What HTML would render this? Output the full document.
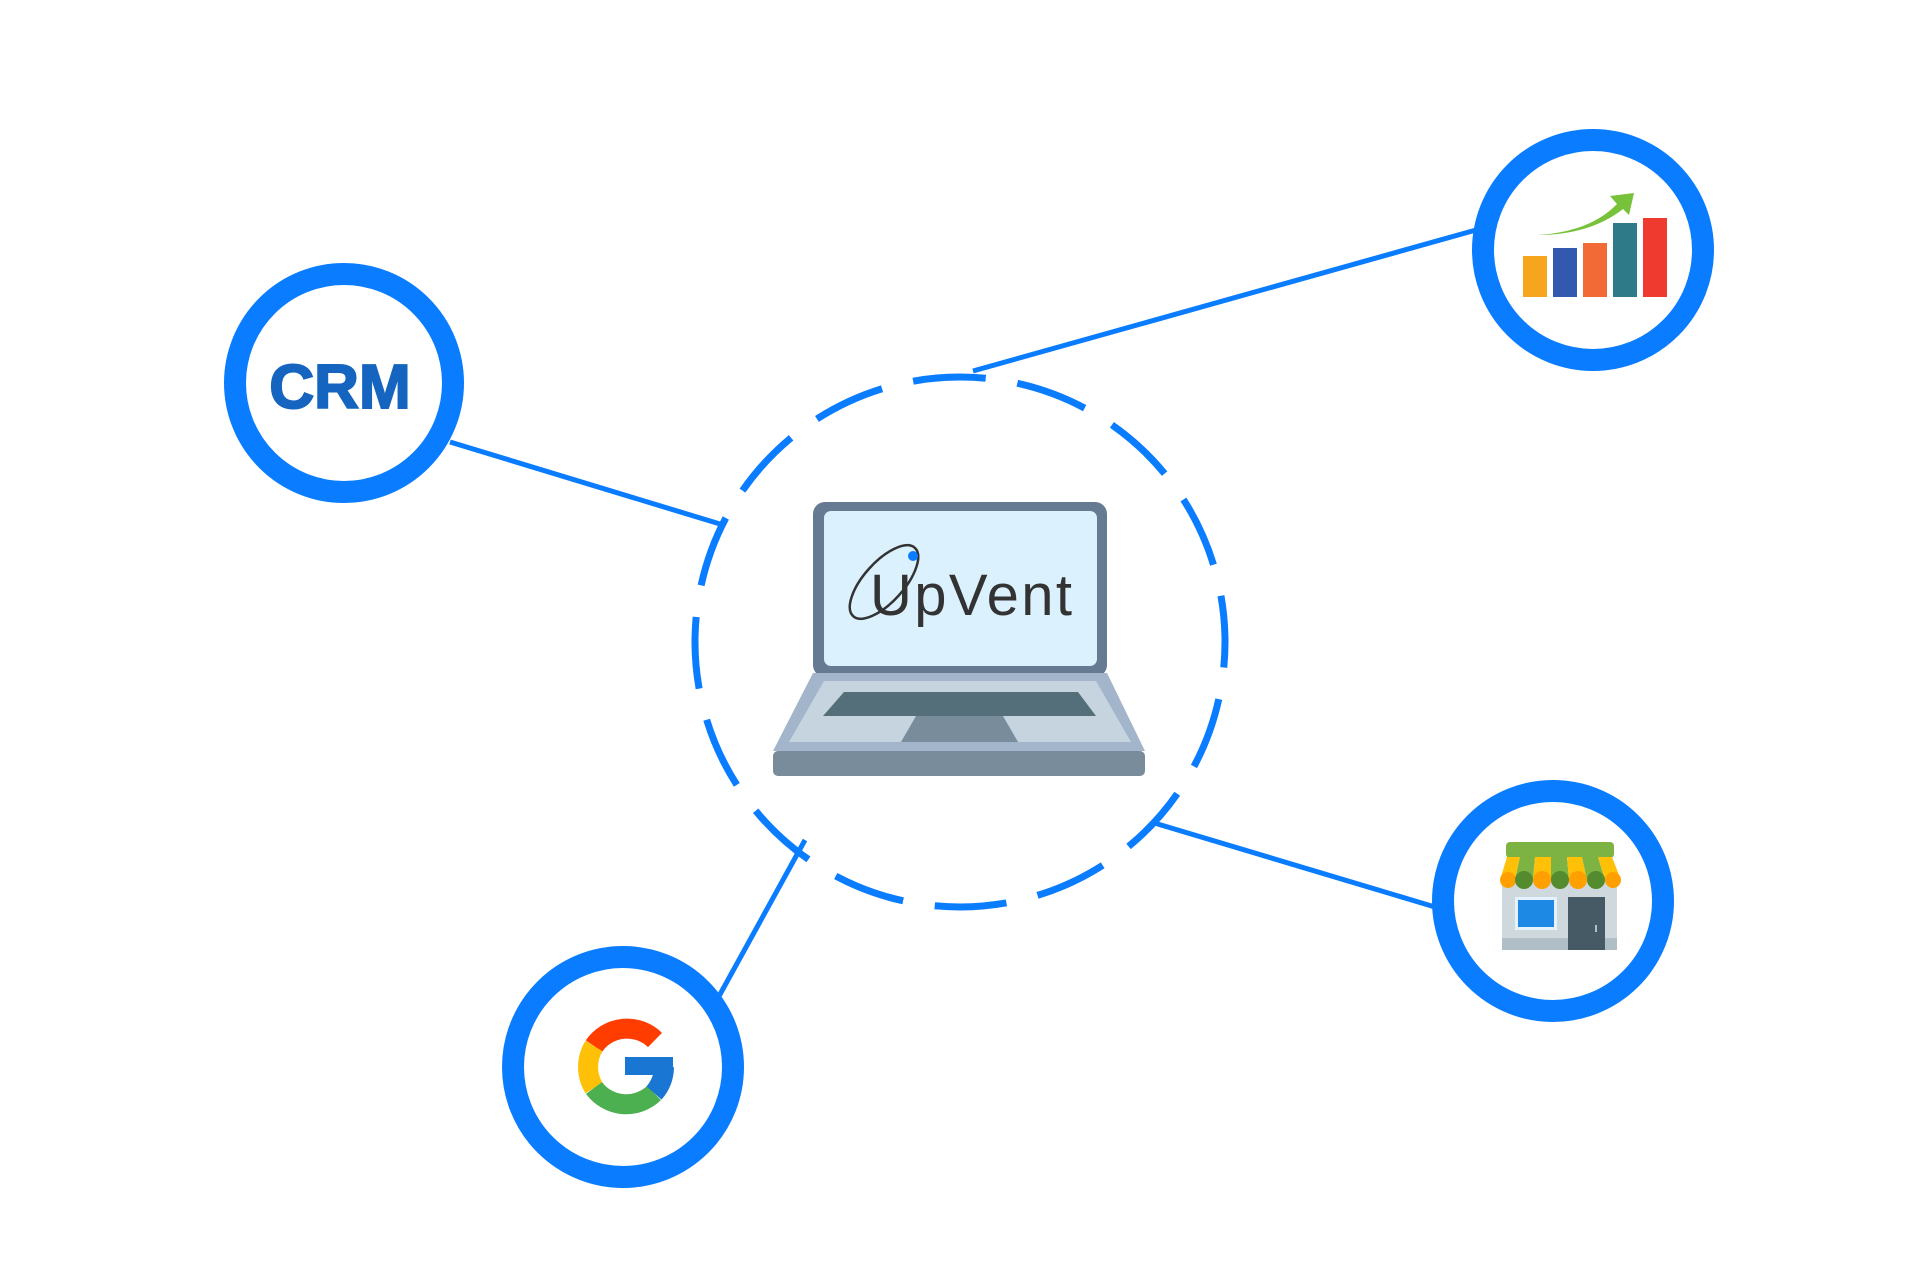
<!DOCTYPE html>
<html><head><meta charset="utf-8"><style>html,body{margin:0;padding:0;background:#fff}svg{display:block}</style></head>
<body>
<svg width="1920" height="1280" viewBox="0 0 1920 1280" xmlns="http://www.w3.org/2000/svg">
<rect width="1920" height="1280" fill="#fff"/>
<g stroke="#0a7cff" stroke-width="5" fill="none">
<line x1="450" y1="442" x2="720" y2="524"/>
<line x1="973" y1="371" x2="1476" y2="230"/>
<line x1="1151" y1="822" x2="1435" y2="907"/>
<line x1="805" y1="840" x2="718" y2="998"/>
</g>
<circle cx="960" cy="642" r="265" fill="none" stroke="#0a7cff" stroke-width="7" stroke-dasharray="72 32" transform="rotate(-100 960 642)"/>
<g fill="#fff" stroke="#0a7cff" stroke-width="22">
<circle cx="344" cy="383" r="109"/>
<circle cx="1593" cy="250" r="110"/>
<circle cx="1553" cy="901" r="110"/>
<circle cx="623" cy="1067" r="110"/>
</g>
<text x="340" y="408" text-anchor="middle" font-family="Liberation Sans, sans-serif" font-weight="bold" font-size="62" fill="#1565c0" stroke="#1565c0" stroke-width="2">CRM</text>
<!-- chart -->
<rect x="1523" y="256" width="24" height="41" fill="#f7a51f"/>
<rect x="1553" y="248" width="24" height="49" fill="#3259ae"/>
<rect x="1583" y="243" width="24" height="54" fill="#f26a35"/>
<rect x="1613" y="223" width="24" height="74" fill="#2f7a88"/>
<rect x="1643" y="218" width="24" height="79" fill="#ef3b2f"/>
<path d="M1537 235 Q1590 232 1617 204 L1610 196 L1634 193 L1629 215 L1623 209 Q1590 235 1537 235 Z" fill="#77c23a"/>
<!-- store -->
<rect x="1502" y="876" width="115" height="74" fill="#cfd8dc"/>
<rect x="1502" y="938" width="115" height="12" fill="#b0bec5"/>
<rect x="1515" y="897" width="42" height="33" fill="#e3f2fd"/>
<rect x="1518" y="900" width="36" height="27" fill="#1e88e5"/>
<rect x="1568" y="897" width="37" height="53" fill="#455a64"/>
<rect x="1595" y="925" width="2" height="7" fill="#b0bec5"/>
<rect x="1506" y="842" width="108" height="16" rx="4" fill="#7cb342"/>
<g>
<path d="M1500 880 L1507 857 L1520 857 L1515 880 Z" fill="#ffc107"/>
<path d="M1515 880 L1520 857 L1535 857 L1533 880 Z" fill="#7cb342"/>
<path d="M1533 880 L1535 857 L1551 857 L1551 880 Z" fill="#ffc107"/>
<path d="M1551 880 L1551 857 L1567 857 L1569 880 Z" fill="#7cb342"/>
<path d="M1569 880 L1567 857 L1582 857 L1587 880 Z" fill="#ffc107"/>
<path d="M1587 880 L1582 857 L1598 857 L1605 880 Z" fill="#7cb342"/>
<path d="M1605 880 L1598 857 L1612 857 L1621 880 Z" fill="#ffc107"/>
<circle cx="1508" cy="880" r="8" fill="#ffa000"/>
<circle cx="1524" cy="880" r="9" fill="#558b2f"/>
<circle cx="1542" cy="880" r="9" fill="#ffa000"/>
<circle cx="1560" cy="880" r="9" fill="#558b2f"/>
<circle cx="1578" cy="880" r="9" fill="#ffa000"/>
<circle cx="1596" cy="880" r="9" fill="#558b2f"/>
<circle cx="1613" cy="880" r="8" fill="#ffa000"/>
</g>
<!-- google -->
<g fill="none" stroke-width="20">
<path d="M655 1040 A40 40 0 0 0 594 1046" stroke="#ff3d00"/>
<path d="M594 1046 A40 40 0 0 0 594 1088" stroke="#ffc107"/>
<path d="M594 1088 A40 40 0 0 0 654 1093" stroke="#4caf50"/>
<path d="M654 1093 A40 40 0 0 0 664 1067" stroke="#1976d2"/>
</g>
<rect x="625" y="1057" width="48" height="18" fill="#1976d2"/>
<!-- laptop -->
<rect x="813" y="502" width="294" height="175" rx="12" fill="#667a91"/>
<rect x="824" y="511" width="273" height="155" rx="7" fill="#dbf1fd"/>
<polygon points="813,673 1107,673 1145,751 773,751" fill="#a3b5cb"/>
<polygon points="824,681 1096,681 1131,742 789,742" fill="#c5d4df"/>
<polygon points="844,692 1078,692 1096,716 823,716" fill="#546e7a"/>
<polygon points="916,716 1003,716 1018,742 901,742" fill="#788c9c"/>
<rect x="773" y="751" width="372" height="25" rx="5" fill="#788c9c"/>
<ellipse cx="884" cy="582" rx="46" ry="20" transform="rotate(-48 884 582)" fill="none" stroke="#333" stroke-width="2.5"/>
<circle cx="913" cy="556" r="5" fill="#0a7cff"/>
<text x="870" y="615" font-family="Liberation Sans, sans-serif" font-size="58" fill="#333" textLength="202">UpVent</text>
</svg>
</body></html>
